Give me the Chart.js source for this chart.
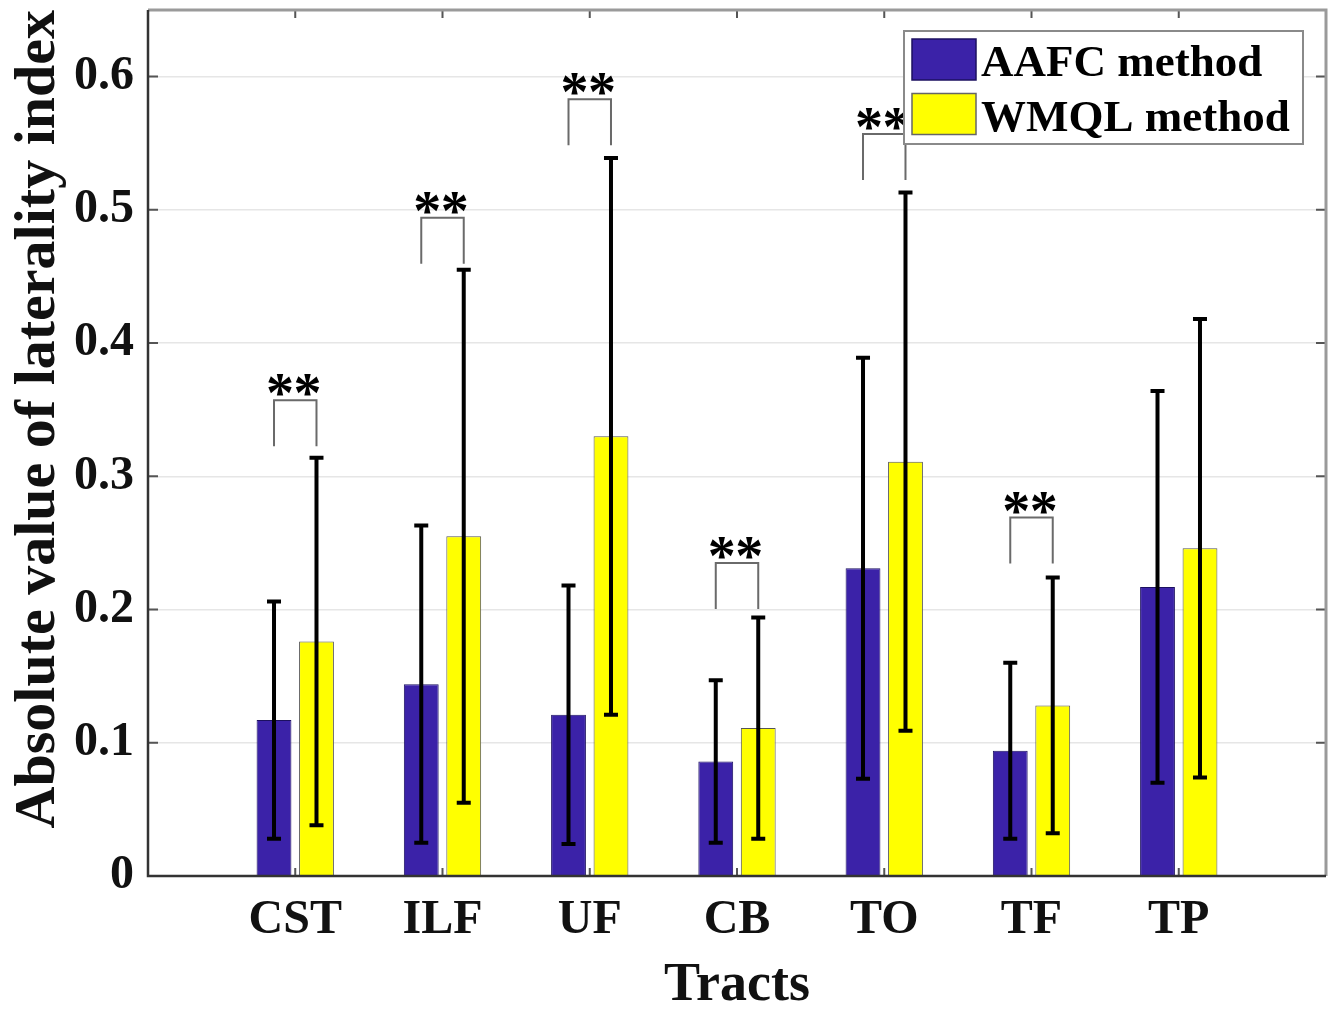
<!DOCTYPE html>
<html><head><meta charset="utf-8">
<script src="https://cdn.jsdelivr.net/npm/chart.js@4.4.1/dist/chart.umd.min.js"></script>
<style>html,body{margin:0;padding:0;background:#fff;}#wrap{width:1334px;height:1010px;}</style>
</head><body><div id="wrap"><canvas id="c" width="1334" height="1010"></canvas></div>
<script>
// ---- data ----
const categories = ['CST', 'ILF', 'UF', 'CB', 'TO', 'TF', 'TP'];
const seriesNames = ['AAFC method', 'WMQL method'];
const aafcMean = [0.117, 0.144, 0.121, 0.086, 0.231, 0.094, 0.217];
const aafcSD   = [0.089, 0.119, 0.097, 0.061, 0.158, 0.066, 0.147];
const wmqlMean = [0.176, 0.255, 0.330, 0.111, 0.311, 0.128, 0.246];
const wmqlSD   = [0.138, 0.200, 0.209, 0.083, 0.202, 0.096, 0.172];
// height of the significance bracket ("**"), null = no bracket
const sigBracket = [0.357, 0.494, 0.583, 0.235, 0.557, 0.269, null];
const sigMark = '*';
const yTickValues = [0, 0.1, 0.2, 0.3, 0.4, 0.5, 0.6];
const yTitle = 'Absolute value of laterality index';
const xTitle = 'Tracts';

// ---- styles ----
const BLUE = '#3b22a8', YELLOW = '#ffff00';
const SERIF = "'Liberation Serif', 'Times New Roman', serif";

const labels = ['', ...categories, ''];
const pad = arr => [null, ...arr, null];
const sds = [aafcSD, wmqlSD];
const means = [aafcMean, wmqlMean];

function noPad(s) { s.paddingTop = 0; s.paddingBottom = 0; s.paddingLeft = 0; s.paddingRight = 0; }

const errorBars = {
  id: 'errorBars',
  afterDatasetsDraw(chart) {
    const ctx = chart.ctx, ys = chart.scales.y;
    ctx.save();
    ctx.strokeStyle = '#000';
    for (let d = 0; d < 2; d++) {
      const meta = chart.getDatasetMeta(d);
      categories.forEach((c, i) => {
        const el = meta.data[i + 1];
        const x = el.x;
        const yt = ys.getPixelForValue(means[d][i] + sds[d][i]);
        const yb = ys.getPixelForValue(means[d][i] - sds[d][i]);
        ctx.lineWidth = 4;
        ctx.beginPath(); ctx.moveTo(x, yt); ctx.lineTo(x, yb); ctx.stroke();
        ctx.beginPath();
        ctx.moveTo(x - 7, yt); ctx.lineTo(x + 7, yt);
        ctx.moveTo(x - 7, yb); ctx.lineTo(x + 7, yb);
        ctx.stroke();
      });
    }
    // significance brackets
    const m0 = chart.getDatasetMeta(0), m1 = chart.getDatasetMeta(1);
    categories.forEach((c, i) => {
      if (sigBracket[i] == null) return;
      const xl = m0.data[i + 1].x, xr = m1.data[i + 1].x;
      const y = ys.getPixelForValue(sigBracket[i]);
      ctx.strokeStyle = '#6a6a6a';
      ctx.lineWidth = 2;
      ctx.beginPath();
      ctx.moveTo(xl, y + 46); ctx.lineTo(xl, y); ctx.lineTo(xr, y); ctx.lineTo(xr, y + 46);
      ctx.stroke();
      ctx.fillStyle = '#000';
      ctx.font = 'bold 56px ' + SERIF;
      ctx.textAlign = 'center';
      ctx.textBaseline = 'alphabetic';
      ctx.fillText(sigMark, xl + 6, y + 12);
      ctx.fillText(sigMark, xr - 9, y + 12);
    });
    ctx.restore();
  }
};

const frameAndLegend = {
  id: 'frameAndLegend',
  afterDraw(chart) {
    const ctx = chart.ctx, a = chart.chartArea, ys = chart.scales.y, xs = chart.scales.x;
    ctx.save();
    // inner tick marks
    ctx.strokeStyle = '#555';
    ctx.lineWidth = 2;
    yTickValues.forEach(v => {
      const y = ys.getPixelForValue(v);
      ctx.beginPath();
      ctx.moveTo(a.left, y); ctx.lineTo(a.left + 10, y);
      ctx.moveTo(a.right, y); ctx.lineTo(a.right - 10, y);
      ctx.stroke();
    });
    categories.forEach((c, i) => {
      const x = xs.getPixelForValue(i + 1);
      ctx.beginPath();
      ctx.moveTo(x, a.top); ctx.lineTo(x, a.top + 8);
      ctx.moveTo(x, a.bottom); ctx.lineTo(x, a.bottom - 8);
      ctx.stroke();
    });
    // frame
    ctx.strokeStyle = '#9a9a9a';
    ctx.lineWidth = 3;
    ctx.beginPath();
    ctx.moveTo(a.left, a.top); ctx.lineTo(a.right, a.top); ctx.lineTo(a.right, a.bottom);
    ctx.stroke();
    ctx.strokeStyle = '#333';
    ctx.lineWidth = 2.5;
    ctx.beginPath();
    ctx.moveTo(a.left, a.top); ctx.lineTo(a.left, a.bottom); ctx.lineTo(a.right, a.bottom);
    ctx.stroke();
    // legend
    const bx = a.right - 422, by = a.top + 21, bw = 399, bh = 113;
    ctx.fillStyle = '#fff';
    ctx.fillRect(bx, by, bw, bh);
    ctx.strokeStyle = '#8a8a8a';
    ctx.lineWidth = 2;
    ctx.strokeRect(bx, by, bw, bh);
    const colors = [BLUE, YELLOW];
    seriesNames.forEach((name, k) => {
      const sy = by + 8 + k * 54.5;
      ctx.fillStyle = colors[k];
      ctx.fillRect(bx + 8, sy, 64, 41);
      ctx.strokeStyle = k === 0 ? '#1c1060' : '#666';
      ctx.lineWidth = 1.5;
      ctx.strokeRect(bx + 8, sy, 64, 41);
      ctx.fillStyle = '#000';
      ctx.font = 'bold 45px ' + SERIF;
      ctx.textAlign = 'left';
      ctx.textBaseline = 'alphabetic';
      ctx.fillText(name, bx + 77, sy + 37);
    });
    ctx.restore();
  }
};

new Chart(document.getElementById('c'), {
  type: 'bar',
  data: {
    labels: labels,
    datasets: [
      { label: seriesNames[0], data: pad(aafcMean), backgroundColor: BLUE, borderColor: '#1c1060', borderWidth: 1 },
      { label: seriesNames[1], data: pad(wmqlMean), backgroundColor: YELLOW, borderColor: '#555', borderWidth: 1 }
    ]
  },
  options: {
    responsive: false,
    animation: false,
    devicePixelRatio: 1,
    layout: { padding: { left: 0, right: 8, top: 10, bottom: 0 } },
    categoryPercentage: 0.577,
    barPercentage: 0.82,
    plugins: { legend: { display: false }, tooltip: { enabled: false } },
    scales: {
      x: {
        type: 'category',
        offset: false,
        grid: { display: false, drawTicks: false },
        border: { display: false },
        ticks: { color: '#111', padding: 21, font: { family: SERIF, size: 48, weight: 'bold', lineHeight: 1 }, maxRotation: 0, autoSkip: false },
        title: { display: true, text: xTitle, color: '#111', font: { family: SERIF, size: 54, weight: 'bold', lineHeight: 1 }, padding: { top: 0, bottom: -3 } },
        afterFit(s) { s.height = 134; noPad(s); }
      },
      y: {
        min: 0, max: 0.65,
        grid: { color: '#e6e6e6', lineWidth: 1.5, drawTicks: false },
        border: { display: false },
        ticks: {
          stepSize: 0.1, includeBounds: false, padding: 14, color: '#111',
          font: { family: SERIF, size: 48, weight: 'bold', lineHeight: 1 },
          callback: v => (Math.abs(v) < 1e-9 ? '0' : v.toFixed(1))
        },
        title: { display: true, text: yTitle, align: 'end', color: '#111', font: { family: SERIF, size: 58, weight: 'bold', lineHeight: 1 }, padding: { top: 10, bottom: 0 } },
        afterFit(s) { s.width = 148; noPad(s); }
      }
    }
  },
  plugins: [errorBars, frameAndLegend]
});
</script>
</body></html>
